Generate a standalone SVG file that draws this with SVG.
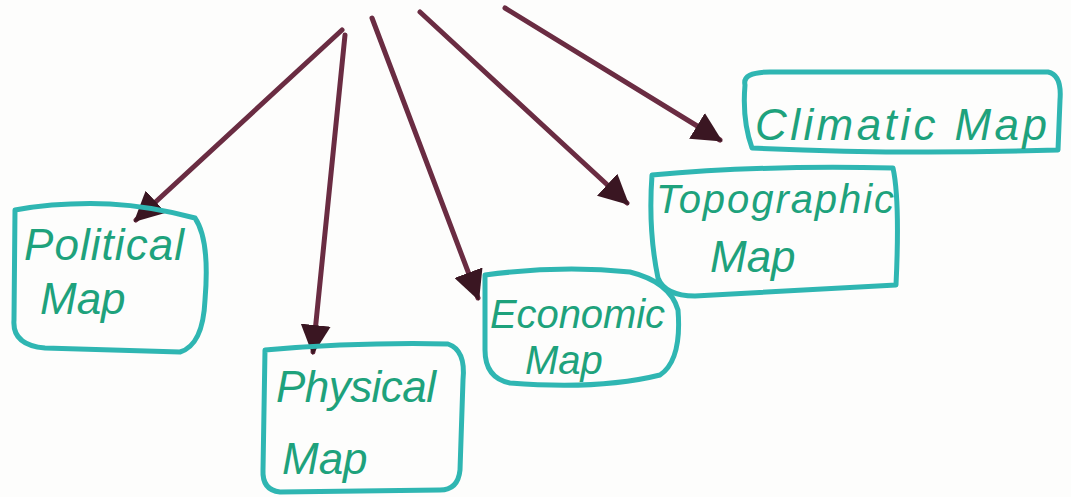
<svg xmlns="http://www.w3.org/2000/svg" width="1071" height="497" viewBox="0 0 1071 497">
<style>
.box{fill:none;stroke:#2fb6b2;stroke-width:5;stroke-linejoin:round}
.lbl{fill:#1ea27c;font-family:"Liberation Sans","DejaVu Sans",sans-serif;font-style:italic}
.arr{stroke:#6a2c42;stroke-width:5;stroke-linecap:round;fill:none;marker-end:url(#ah)}
</style>
<defs>
<marker id="ah" markerUnits="userSpaceOnUse" viewBox="0 0 10 10" refX="9" refY="5" markerWidth="30" markerHeight="30" orient="auto">
<path d="M0,0 L10,5 L0,10 Z" fill="#3a1622"/>
</marker>
</defs>
<rect width="1071" height="497" fill="#fdfdfc"/>
<g id="connectors">
<path class="arr" d="M342 30 L136 220"/>
<path class="arr" d="M345 35 L313 352"/>
<path class="arr" d="M372 18 L478 298"/>
<path class="arr" d="M420 12 L627 203"/>
<path class="arr" d="M505 8 L720 140"/>
</g>
<g id="political">
<path class="box" d="M15 210 Q60 202 110 204 Q150 206 195 218 Q210 240 205 300 Q203 345 180 352 L45 348 Q12 345 14 320 Z"/>
<text class="lbl" x="24" y="260" font-size="44" textLength="160">Political</text>
<text class="lbl" x="40" y="314" font-size="44">Map</text>
</g>
<g id="physical">
<path class="box" d="M265 350 Q360 342 448 344 Q466 350 463 380 L460 470 Q458 490 440 490 L280 492 Q262 490 263 470 Z"/>
<text class="lbl" x="276" y="402" font-size="44" textLength="160">Physical</text>
<text class="lbl" x="282" y="474" font-size="44">Map</text>
</g>
<g id="economic">
<path class="box" d="M485 275 Q560 265 630 272 Q670 282 678 310 Q682 360 660 375 Q600 390 510 383 Q485 378 485 350 Z"/>
<text class="lbl" x="490" y="328" font-size="40" textLength="175">Economic</text>
<text class="lbl" x="525" y="374" font-size="40">Map</text>
</g>
<g id="topographic">
<path class="box" d="M652 175 Q760 165 893 168 Q900 200 896 285 Q800 290 695 296 Q665 296 658 278 Q648 230 652 175 Z"/>
<text class="lbl" x="656" y="213" font-size="40" textLength="238">Topographic</text>
<text class="lbl" x="710" y="272" font-size="44">Map</text>
</g>
<g id="climatic">
<path class="box" d="M745 85 Q742 72 770 72 L1048 72 Q1062 75 1060 100 L1058 150 Q900 155 752 148 Q742 120 745 85 Z"/>
<text class="lbl" x="755" y="140" font-size="44" textLength="292">Climatic Map</text>
</g>
</svg>
